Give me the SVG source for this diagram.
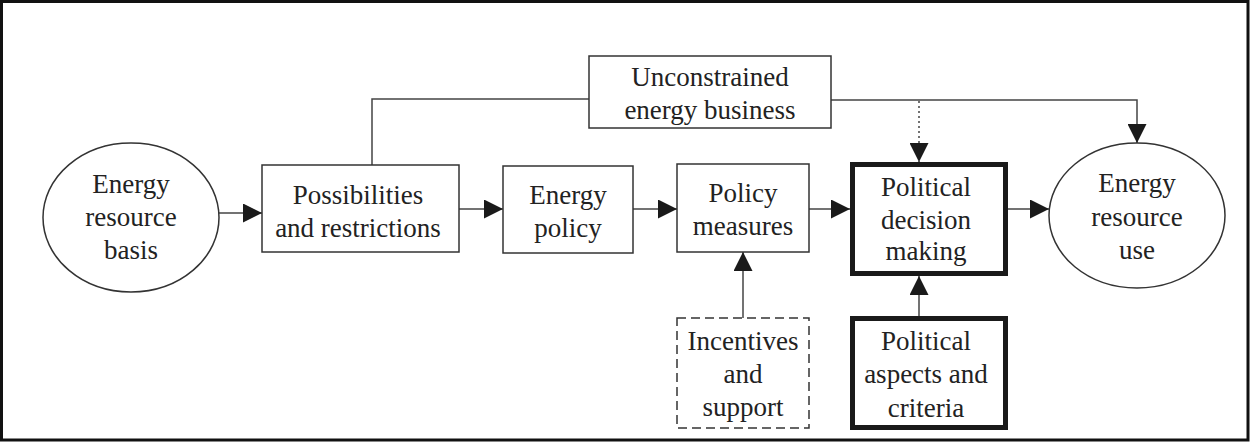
<svg xmlns="http://www.w3.org/2000/svg" width="1250" height="442" viewBox="0 0 1250 442">
<style>
  .box{fill:#fff;stroke:#333;stroke-width:1.5}
  .thick{fill:#fff;stroke:#1a1a1a;stroke-width:5}
  .dash{fill:#fff;stroke:#333;stroke-width:1.5;stroke-dasharray:9 5}
  .t{font-family:'Liberation Serif','Tinos','DejaVu Serif',serif;font-size:27px;fill:#222;text-anchor:middle}
  .ln{fill:none;stroke:#444;stroke-width:1.5}
  .dot{fill:none;stroke:#444;stroke-width:1.5;stroke-dasharray:2 3}
</style>
<defs>
  <marker id="ah" viewBox="0 0 19 19" refX="19" refY="9.5" markerWidth="19" markerHeight="19" markerUnits="userSpaceOnUse" orient="auto">
    <path d="M0,0 L19,9.5 L0,19 z" fill="#1a1a1a"/>
  </marker>
</defs>
<rect x="0" y="0" width="1250" height="442" fill="#fff"/>
<rect x="1.5" y="1.5" width="1246.5" height="438.5" fill="none" stroke="#111" stroke-width="3"/>

<g id="connectors">
  <line class="ln" x1="219" y1="213" x2="262" y2="213" marker-end="url(#ah)"/>
  <line class="ln" x1="459" y1="209" x2="503" y2="209" marker-end="url(#ah)"/>
  <line class="ln" x1="633" y1="209" x2="677" y2="209" marker-end="url(#ah)"/>
  <line class="ln" x1="809" y1="209" x2="850" y2="209" marker-end="url(#ah)"/>
  <line class="ln" x1="1008" y1="209" x2="1049" y2="209" marker-end="url(#ah)"/>
  <line class="ln" x1="743" y1="318" x2="743" y2="252" marker-end="url(#ah)"/>
  <line class="ln" x1="919" y1="316" x2="919" y2="276" marker-end="url(#ah)"/>
  <polyline class="ln" points="372,165 372,99 589,99"/>
  <polyline class="ln" points="831,100 1137,100 1137,143" marker-end="url(#ah)"/>
  <line class="dot" x1="919" y1="101" x2="919" y2="162" marker-end="url(#ah)"/>
</g>

<g id="energy-resource-basis">
  <ellipse cx="131" cy="217.5" rx="88" ry="74.5" class="box"/>
  <text class="t" x="131" y="193">Energy</text>
  <text class="t" x="131" y="226">resource</text>
  <text class="t" x="131" y="259">basis</text>
</g>

<g id="possibilities">
  <rect x="262" y="165" width="197" height="87" class="box"/>
  <text class="t" x="358" y="204">Possibilities</text>
  <text class="t" x="358" y="237">and restrictions</text>
</g>

<g id="energy-policy">
  <rect x="503" y="166" width="130" height="87" class="box"/>
  <text class="t" x="568" y="204">Energy</text>
  <text class="t" x="568" y="237">policy</text>
</g>

<g id="policy-measures">
  <rect x="677" y="164" width="132" height="88" class="box"/>
  <text class="t" x="743" y="202">Policy</text>
  <text class="t" x="743" y="235">measures</text>
</g>

<g id="unconstrained">
  <rect x="589" y="56" width="242" height="72" class="box"/>
  <text class="t" x="710" y="86">Unconstrained</text>
  <text class="t" x="710" y="119">energy business</text>
</g>

<g id="political-decision">
  <rect x="852.5" y="164.5" width="153" height="109" class="thick"/>
  <text class="t" x="926" y="196">Political</text>
  <text class="t" x="926" y="229">decision</text>
  <text class="t" x="926" y="260">making</text>
</g>

<g id="energy-resource-use">
  <ellipse cx="1137" cy="215.5" rx="88" ry="72.5" class="box"/>
  <text class="t" x="1137" y="192">Energy</text>
  <text class="t" x="1137" y="226">resource</text>
  <text class="t" x="1137" y="259">use</text>
</g>

<g id="political-aspects">
  <rect x="852.5" y="318.5" width="153" height="109" class="thick"/>
  <text class="t" x="926" y="350">Political</text>
  <text class="t" x="926" y="383">aspects and</text>
  <text class="t" x="926" y="417">criteria</text>
</g>

<g id="incentives">
  <rect x="677" y="318" width="132" height="110" class="dash"/>
  <text class="t" x="743" y="350">Incentives</text>
  <text class="t" x="743" y="383">and</text>
  <text class="t" x="743" y="416">support</text>
</g>
</svg>
